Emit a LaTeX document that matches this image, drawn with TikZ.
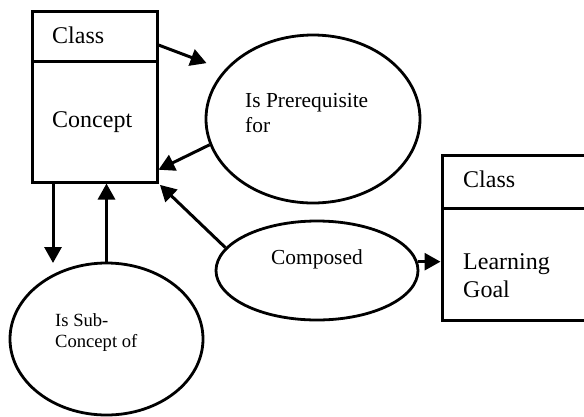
\documentclass[tikz,border=0pt]{standalone}
\usepackage{fontspec}
\setmainfont{Liberation Serif}
\usetikzlibrary{arrows.meta,shapes.geometric}

\tikzset{
  box/.style={draw,line width=3pt,minimum width=125pt,inner sep=0pt},
  bubble/.style={draw,ellipse,line width=2.8pt,inner sep=0pt},
  link/.style={line width=3pt,-{Triangle[length=16pt,width=17pt]}},
  bigtxt/.style={font=\fontsize{24}{28}\selectfont,anchor=base west,inner sep=0pt,align=left},
  midtxt/.style={font=\fontsize{21.4}{25}\selectfont,anchor=base west,inner sep=0pt,align=left},
  smalltxt/.style={font=\fontsize{18.6}{21}\selectfont,anchor=base west,inner sep=0pt,align=left}
}

\begin{document}
\begin{tikzpicture}[x=1pt,y=-1pt]
\path[use as bounding box] (0,0) rectangle (584,416);
\clip (0,0) rectangle (584,416);

% Concept class
\node[box,minimum height=50pt] (classhead) at (94.5,36) {};
\node[box,minimum height=121pt] (concept) at (94.5,121.5) {};
\node[bigtxt] (classlbl) at (52,43) {Class};
\node[bigtxt] (conceptlbl) at (52,127) {Concept};

% Learning Goal class
\node[box,minimum width=158pt,minimum height=53pt] (goalhead) at (521,181.5) {};
\node[box,minimum width=158pt,minimum height=112pt] (goalbody) at (521,264) {};
\node[bigtxt] (goalclasslbl) at (463,187) {Class};
\node[bigtxt] (goallbl) at (463,297) {Learning\\Goal};

% relations
\node[bubble,minimum width=214pt,minimum height=168pt] (prereq) at (313,119) {};
\node[midtxt] (prereqlbl) at (245,132) {Is Prerequisite\\for};
\node[bubble,minimum width=202pt,minimum height=99pt] (composed) at (317,270.5) {};
\node[midtxt] (composedlbl) at (271,264) {Composed};
\node[bubble,minimum width=193pt,minimum height=152pt] (sub) at (106.5,339) {};
\node[smalltxt] (sublbl) at (55,347) {Is Sub-\\Concept of};

\draw[link,shorten >=19pt] (classhead.-8) -- (prereq.151);
\draw[link] (prereq.194) -- (concept.-37);
\draw[link,shorten >=2pt] (composed.166) -- (concept.south east);
\draw[link] (composed.5) -- (composed.5 -| goalbody.west);
\coordinate (subtip) at (53,263);
\draw[link] (concept.south -| subtip) -- (subtip);
\draw[link] (sub.north) -- (sub.north |- concept.south);
\end{tikzpicture}
\end{document}
